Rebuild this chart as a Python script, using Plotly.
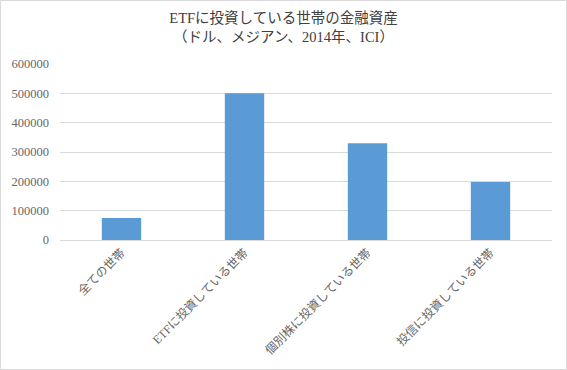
import plotly.graph_objects as go

categories = ["全ての世帯", "ETFに投資している世帯", "個別株に投資している世帯", "投信に投資している世帯"]
values = [75000, 500000, 330000, 198000]
tick_vals = [0, 100000, 200000, 300000, 400000, 500000, 600000]

W, H = 567, 370
ml, mr, mt, mb = 60, 15, 64, 130
pw, ph = W - ml - mr, H - mt - mb

font_family = "Liberation Serif, Noto Sans CJK JP, serif"

fig = go.Figure(go.Bar(
    x=categories, y=values,
    marker=dict(color="#5b9bd5", line=dict(width=0)),
    width=0.32,
))

fig.update_layout(
    width=W, height=H,
    margin=dict(l=ml, r=mr, t=mt, b=mb, autoexpand=False),
    paper_bgcolor="white", plot_bgcolor="white",
    font=dict(family=font_family, color="#666666", size=12),
    title=dict(
        text="ETFに投資している世帯の金融資産<br>（ドル、メジアン、2014年、ICI）",
        x=0.5, xref="container", xanchor="center",
        y=0.937, yref="container", yanchor="top",
        font=dict(size=14.5, color="#404040", family=font_family),
    ),
    showlegend=False,
)
fig.update_xaxes(
    tickangle=-45, showgrid=False, showline=True, linecolor="#d9d9d9", linewidth=1,
    ticks="", tickfont=dict(size=12, color="#666666"),
)
fig.update_yaxes(
    range=[0, 600000], tickvals=tick_vals, ticktext=[str(v) for v in tick_vals],
    showgrid=True, gridcolor="#d9d9d9", gridwidth=1, zeroline=False,
    showline=False, ticks="", ticklabelstandoff=10, tickfont=dict(size=12.5, color="#666666"),
)
fig.add_shape(
    type="rect", xref="paper", yref="paper",
    x0=(-ml + 0.5) / pw, x1=1 + (mr - 0.5) / pw,
    y0=(-mb + 0.5) / ph, y1=1 + (mt - 0.5) / ph,
    line=dict(color="#d9d9d9", width=1), fillcolor="rgba(0,0,0,0)", layer="below",
)
fig.write_html(
    "out.html",
    config={"displayModeBar": False},
    post_script="document.body.style.margin='0';document.body.style.overflow='hidden';",
)
